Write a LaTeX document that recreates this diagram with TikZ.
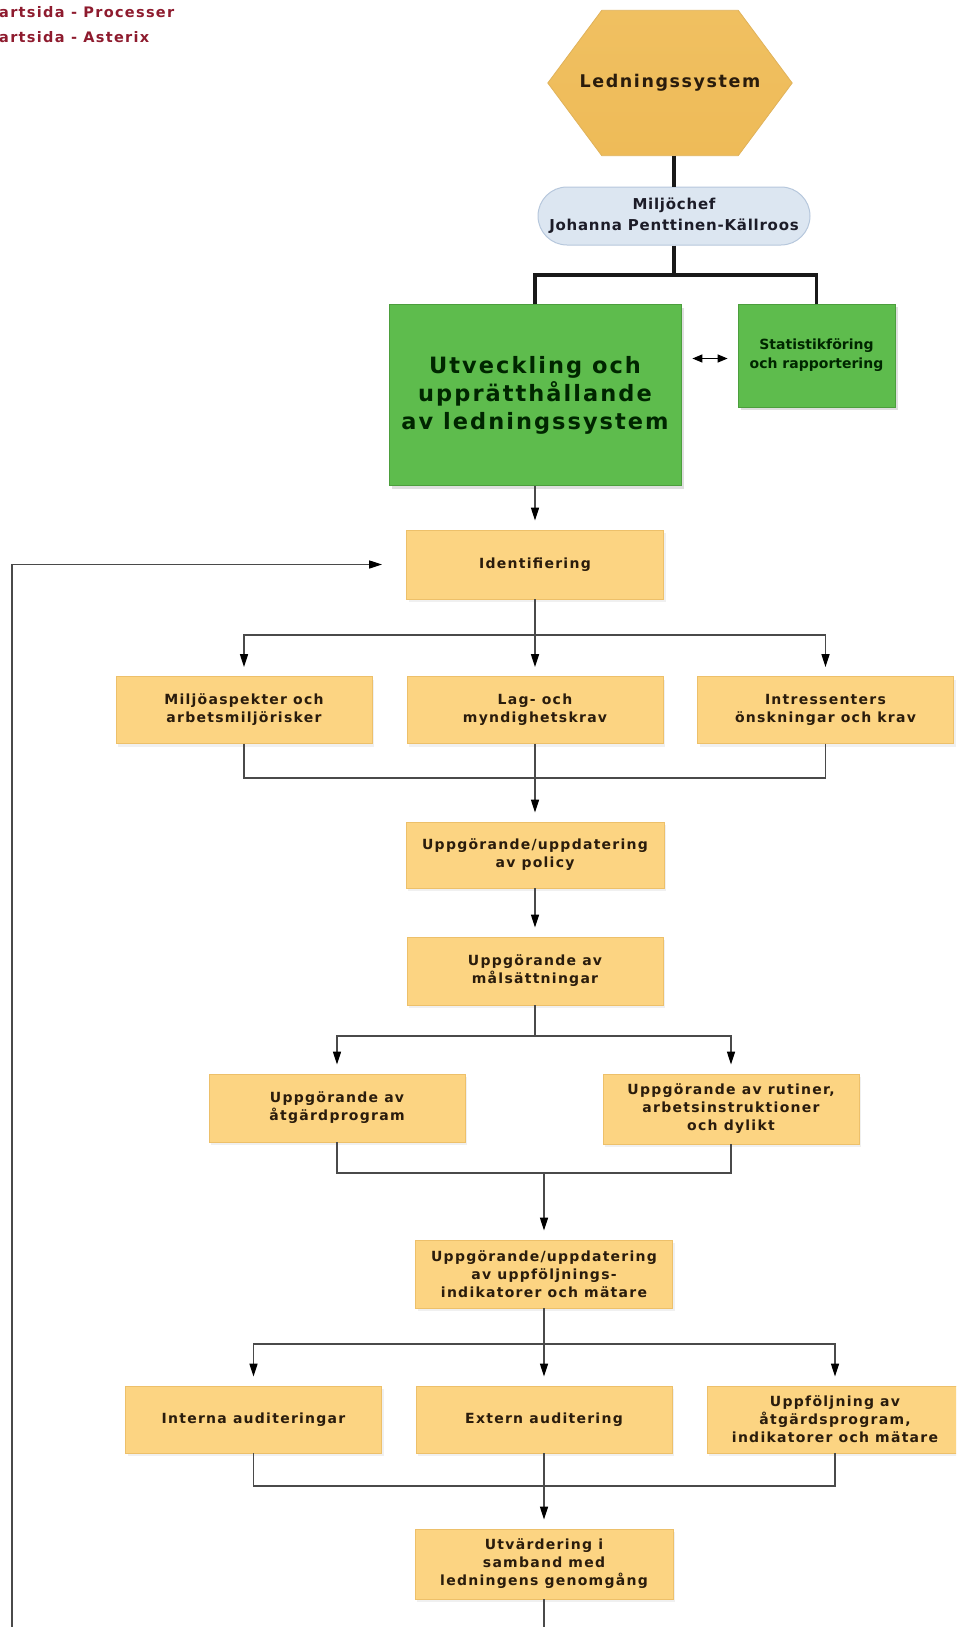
\documentclass[tikz,border=0pt]{standalone}
\usepackage{fontspec}
\setmainfont{DejaVu Sans}
\newfontfamily\bx{DejaVu Sans}[LetterSpace=9]
\newfontfamily\bxm{DejaVu Sans}[LetterSpace=5]
\newfontfamily\bxn{DejaVu Sans}
\usetikzlibrary{arrows.meta,shadows,calc,backgrounds}
\definecolor{boxfill}{HTML}{FCD482}
\definecolor{boxline}{HTML}{EDC06A}
\definecolor{txt}{HTML}{2A1C0C}
\definecolor{gfill}{HTML}{5EBC4D}
\definecolor{gline}{HTML}{4C9E3D}
\definecolor{pfill}{HTML}{DCE6F1}
\definecolor{pline}{HTML}{B6C7DC}
\definecolor{ptxt}{HTML}{1C1C28}
\definecolor{conncol}{HTML}{4A4A4A}
\definecolor{hdr}{HTML}{8E1B2E}
\definecolor{hextop}{HTML}{F0C061}
\definecolor{hexmid}{HTML}{F9D98F}
\definecolor{hexbot}{HTML}{EEBB58}
\definecolor{hexline}{HTML}{E0B25A}
\begin{document}
\begin{tikzpicture}[x=1pt,y=-1pt,
  obox/.style={rectangle, fill=boxfill, draw=boxline, line width=0.8pt,
    minimum width=256pt, minimum height=68pt, align=center, inner sep=2pt,
    text=txt, font=\bx\bfseries\fontsize{14}{18}\selectfont,
    drop shadow={opacity=0.12, shadow xshift=2pt, shadow yshift=-3pt}},
  gbox/.style={rectangle, fill=gfill, draw=gline, line width=0.8pt, align=center,
    inner sep=2pt, text=black!85!green,
    drop shadow={opacity=0.25, shadow xshift=3pt, shadow yshift=-3pt}},
  conn/.style={draw=conncol, line width=1.4pt},
  heavy/.style={draw=black!90, line width=3.3pt},
  arr/.style={-{Triangle[length=13pt,width=8pt,color=black]}, shorten >=9pt},
  hdrtext/.style={anchor=west, inner sep=0pt, text=hdr, font=\bx\bfseries\fontsize{14.5}{16}\selectfont}
]
\useasboundingbox (0,0) rectangle (956,1627);
\clip (0,0) rectangle (956,1627);

% header
\node[hdrtext] (h1) at (-1,12) {artsida - Processer};
\node[hdrtext] (h2) at (-1,37) {artsida - Asterix};

% hexagon
\node[minimum width=244pt, minimum height=145pt, inner sep=0pt, text=txt,
      font=\bx\bfseries\fontsize{17.5}{20}\selectfont] (hex) at (670,83) {Ledningssystem};
\begin{scope}[on background layer]
\shadedraw[top color=hextop, middle color=hexmid, bottom color=hexbot, draw=hexline, line width=0.8pt]
  (hex.west) -- ($(hex.north west)+(54,0)$) -- ($(hex.north east)+(-54,0)$) -- (hex.east)
  -- ($(hex.south east)+(-54,0)$) -- ($(hex.south west)+(54,0)$) -- cycle;
\end{scope}

% manager pill
\node[rectangle, rounded corners=29pt, fill=pfill, draw=pline, line width=1pt,
      minimum width=272pt, minimum height=58pt, align=center, inner sep=2pt, text=ptxt,
      font=\bxm\bfseries\fontsize{15}{21}\selectfont] (mil) at (674,216)
      {Milj\"ochef\\Johanna Penttinen-K\"allroos};

% green boxes
\node[gbox, minimum width=292pt, minimum height=181pt,
      font=\bx\bfseries\fontsize{22.5}{28}\selectfont] (big) at (535,395)
      {Utveckling och\\uppr\"atth\aa llande\\av ledningssystem};
\node[gbox, minimum width=157pt, minimum height=103pt,
      font=\bxn\bfseries\fontsize{14}{19}\selectfont] (sg) at (816.5,355.5)
      {Statistikf\"oring\\och rapportering};

% orange boxes
\node[obox, minimum width=257pt, minimum height=69pt] (ident) at (535,564.5) {Identifiering};
\node[obox, minimum height=67pt] (mas) at (244,710) {Milj\"oaspekter och\\arbetsmilj\"orisker};
\node[obox, minimum height=67pt] (lag) at (535,710) {Lag- och\\myndighetskrav};
\node[obox, minimum height=67pt] (int) at (825.5,710) {Intressenters\\\"onskningar och krav};
\node[obox, minimum width=258pt, minimum height=66pt] (pol) at (535,855) {Uppg\"orande/uppdatering\\av policy};
\node[obox] (mal) at (535,971) {Uppg\"orande av\\m\aa ls\"attningar};
\node[obox] (atg) at (337,1108) {Uppg\"orande av\\\aa tg\"ardprogram};
\node[obox, minimum height=70pt] (rut) at (731,1109) {Uppg\"orande av rutiner,\\arbetsinstruktioner\\och dylikt};
\node[obox, minimum width=257pt] (ind) at (544,1274) {Uppg\"orande/uppdatering\\av uppf\"oljnings-\\indikatorer och m\"atare};
\node[obox, minimum height=67pt] (ia) at (253.5,1419.5) {Interna auditeringar};
\node[obox, minimum height=67pt] (ext) at (544,1419.5) {Extern auditering};
\node[obox, minimum height=67pt] (upf) at (835,1419.5) {Uppf\"oljning av\\\aa tg\"ardsprogram,\\indikatorer och m\"atare};
\node[obox, minimum width=258pt, minimum height=70pt] (utv) at (544,1564) {Utv\"ardering i\\samband med\\ledningens genomg\aa ng};

% coordinates
\coordinate (t1) at (674,275);
\coordinate (b1) at (535,635);
\coordinate (m1) at (535,778);
\coordinate (b2) at (535,1036);
\coordinate (m2) at (544,1173);
\coordinate (b3) at (544,1344);
\coordinate (m3) at (544,1486);
\coordinate (fb) at (12,1680);

% top connectors
\draw[heavy] (hex.south -| mil.north) -- (mil.north);
\draw[heavy] (mil.south) -- (t1);
\draw[heavy] (big.north) |- (t1) -| (sg.north);
\draw[black, line width=1.3pt, {Triangle[length=10pt,width=8pt]}-{Triangle[length=10pt,width=8pt]}]
  ([xshift=11pt,yshift=-3pt]big.east |- sg.west) -- ([xshift=-10pt,yshift=-3pt]sg.west);

% main flow
\draw[conn, arr] (big) -- (ident);
\draw[conn] (ident) -- (b1);
\draw[conn, arr] (b1) -| (mas);
\draw[conn, arr] (b1) -- (lag);
\draw[conn, arr] (b1) -| (int);
\draw[conn] (mas) |- (m1);
\draw[conn] (int) |- (m1);
\draw[conn] (lag) -- (m1);
\draw[conn, arr] (m1) -- (pol);
\draw[conn, arr] (pol) -- (mal);
\draw[conn] (mal) -- (b2);
\draw[conn, arr] (b2) -| (atg);
\draw[conn, arr] (b2) -| (rut);
\draw[conn] (atg) |- (m2);
\draw[conn] (rut) |- (m2);
\draw[conn, arr] (m2) -- (ind);
\draw[conn] (ind) -- (b3);
\draw[conn, arr] (b3) -| (ia);
\draw[conn, arr] (b3) -- (ext);
\draw[conn, arr] (b3) -| (upf);
\draw[conn] (ia) |- (m3);
\draw[conn] (upf) |- (m3);
\draw[conn] (ext) -- (m3);
\draw[conn, arr] (m3) -- (utv);

% feedback loop
\draw[conn, -{Triangle[length=13pt,width=8pt,color=black]}, shorten >=24pt] (utv) |- (fb) |- (ident);
\end{tikzpicture}
\end{document}
